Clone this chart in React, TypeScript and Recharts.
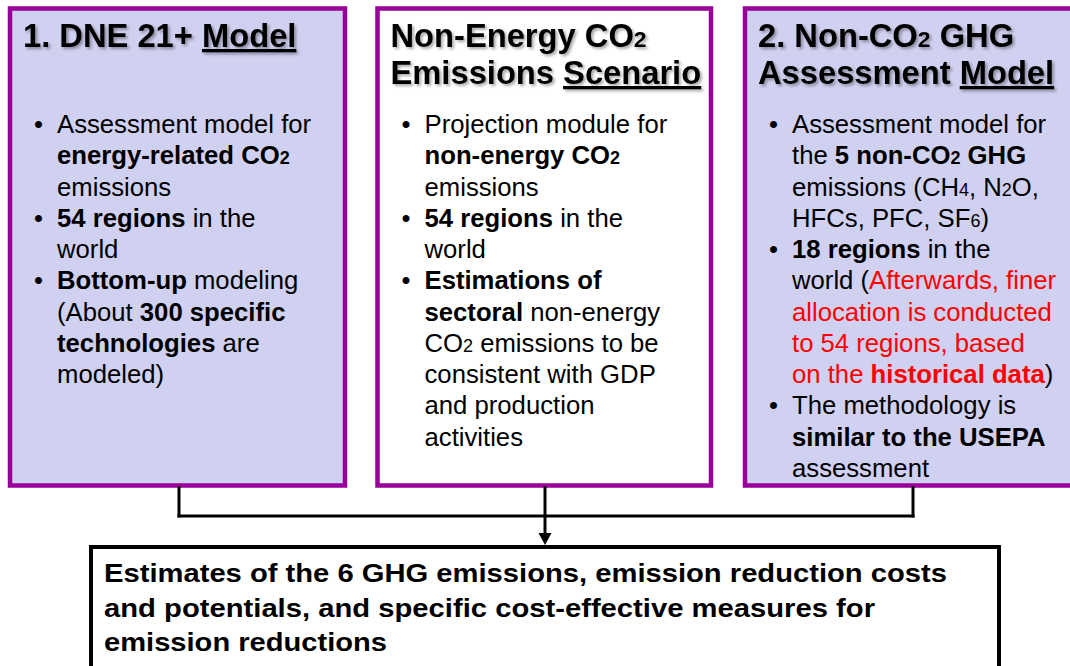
import React from "react"
import { ComposedChart, XAxis, YAxis, ReferenceArea, ReferenceDot, ReferenceLine } from "recharts"

// segment = [text, flags]; flags: b bold, s subscript, r red, u underline
type Seg = [string, string?]
type Row = { bullet?: boolean; segs: Seg[] }

const COLORS = {
  frame: "#990099",
  lavender: "#d0d0f0",
  red: "#ff0000",
  ink: "#000000",
}

const FONT = "'Liberation Sans', Arial, sans-serif"

const dneTitle: Seg[][] = [[["1. DNE 21+ "], ["Model", "u"]]]
const dneRows: Row[] = [
  { bullet: true, segs: [["Assessment model for"]] },
  { segs: [["energy-related CO", "b"], ["2", "bs"]] },
  { segs: [["emissions"]] },
  { bullet: true, segs: [["54 regions", "b"], [" in the"]] },
  { segs: [["world"]] },
  { bullet: true, segs: [["Bottom-up", "b"], [" modeling"]] },
  { segs: [["(About "], ["300 specific", "b"]] },
  { segs: [["technologies", "b"], [" are"]] },
  { segs: [["modeled)"]] },
]

const nonEnergyTitle: Seg[][] = [
  [["Non-Energy CO"], ["2", "s"]],
  [["Emissions "], ["Scenario", "u"]],
]
const nonEnergyRows: Row[] = [
  { bullet: true, segs: [["Projection module for"]] },
  { segs: [["non-energy CO", "b"], ["2", "bs"]] },
  { segs: [["emissions"]] },
  { bullet: true, segs: [["54 regions", "b"], [" in the"]] },
  { segs: [["world"]] },
  { bullet: true, segs: [["Estimations of", "b"]] },
  { segs: [["sectoral", "b"], [" non-energy"]] },
  { segs: [["CO"], ["2", "s"], [" emissions to be"]] },
  { segs: [["consistent with GDP"]] },
  { segs: [["and production"]] },
  { segs: [["activities"]] },
]

const nonCo2Title: Seg[][] = [
  [["2. Non-CO"], ["2", "s"], [" GHG"]],
  [["Assessment "], ["Model", "u"]],
]
const nonCo2Rows: Row[] = [
  { bullet: true, segs: [["Assessment model for"]] },
  { segs: [["the "], ["5 non-CO", "b"], ["2", "bs"], [" GHG", "b"]] },
  { segs: [["emissions (CH"], ["4", "s"], [", N"], ["2", "s"], ["O,"]] },
  { segs: [["HFCs, PFC, SF"], ["6", "s"], [")"]] },
  { bullet: true, segs: [["18 regions", "b"], [" in the"]] },
  { segs: [["world ("], ["Afterwards, finer", "r"]] },
  { segs: [["allocation is conducted", "r"]] },
  { segs: [["to 54 regions, based", "r"]] },
  { segs: [["on the ", "r"], ["historical data", "rb"], [")"]] },
  { bullet: true, segs: [["The methodology is"]] },
  { segs: [["similar to the USEPA", "b"]] },
  { segs: [["assessment"]] },
]

const resultLines = [
  "Estimates of the 6 GHG emissions, emission reduction costs",
  "and potentials, and specific cost-effective measures for",
  "emission reductions",
]
const resultWidths = [843, 771, 283]

// connector segments: bracket under the three boxes and centre stem
const connectors = [
  [{ x: 179, y: 488 }, { x: 179, y: 516 }],
  [{ x: 913, y: 488 }, { x: 913, y: 516 }],
  [{ x: 179, y: 516 }, { x: 913, y: 516 }],
  [{ x: 545, y: 488 }, { x: 545, y: 534 }],
]

const renderSegs = (segs: Seg[]) =>
  segs.map(([t, f = ""], i) => (
    <tspan
      key={i}
      fontWeight={f.includes("b") ? 700 : 400}
      fontSize={f.includes("s") ? "70%" : undefined}
      fill={f.includes("r") ? COLORS.red : COLORS.ink}
      textDecoration={f.includes("u") ? "underline" : undefined}
    >
      {t}
    </tspan>
  ))

const boxLabel = (title: Seg[][], rows: Row[]) => (props: any) => {
  const { x, y } = props.viewBox
  return (
    <g style={{ whiteSpace: "pre" }} fontFamily={FONT}>
      {title.map((line, i) => (
        <text
          key={"t" + i}
          x={x + 13}
          y={y + 38.5 + i * 37}
          fontSize={32.7}
          fontWeight={700}
          style={{ filter: "drop-shadow(2px 2px 1.5px rgba(0,0,0,0.35))" }}
        >
          {renderSegs(line.map(([t, f = ""]) => [t, f + "b"] as Seg))}
        </text>
      ))}
      {rows.map((r, i) => (
        <g key={"r" + i}>
          {r.bullet && (
            <text x={x + 24} y={y + 124.5 + i * 31.25} fontSize={25.7}>
              •
            </text>
          )}
          <text x={x + 47} y={y + 124.5 + i * 31.25} fontSize={25.7}>
            {renderSegs(r.segs)}
          </text>
        </g>
      ))}
    </g>
  )
}

const resultLabel = (props: any) => {
  const { x, y } = props.viewBox
  return (
    <g fontFamily={FONT}>
      {resultLines.map((t, i) => (
        <text
          key={i}
          x={x + 13}
          y={y + 35 + i * 34.5}
          fontSize={26}
          fontWeight={700}
          textLength={resultWidths[i]}
          lengthAdjust="spacingAndGlyphs"
        >
          {t}
        </text>
      ))}
    </g>
  )
}

const arrowHead = (p: any) => (
  <path d={`M${p.cx - 6.5},${p.cy - 12} L${p.cx + 6.5},${p.cy - 12} L${p.cx},${p.cy} Z`} fill={COLORS.ink} />
)

export default function App() {
  return (
    <div style={{ position: "absolute", left: 0, top: 0, background: "#fff" }}>
      <ComposedChart width={1070} height={666} margin={{ top: 0, right: 0, bottom: 0, left: 0 }}>
        <XAxis type="number" dataKey="x" domain={[0, 1070]} hide allowDataOverflow />
        <YAxis type="number" dataKey="y" domain={[0, 666]} reversed hide allowDataOverflow />

        <ReferenceArea x1={10} x2={345} y1={8.5} y2={485.5} ifOverflow="visible"
          fill={COLORS.lavender} fillOpacity={1} stroke={COLORS.frame} strokeWidth={4.5}
          label={boxLabel(dneTitle, dneRows)} />
        <ReferenceArea x1={377.5} x2={711} y1={8.5} y2={485.5} ifOverflow="visible"
          fill="#ffffff" fillOpacity={1} stroke={COLORS.frame} strokeWidth={4.5}
          label={boxLabel(nonEnergyTitle, nonEnergyRows)} />
        <ReferenceArea x1={745} x2={1080} y1={8.5} y2={485.5} ifOverflow="visible"
          fill={COLORS.lavender} fillOpacity={1} stroke={COLORS.frame} strokeWidth={4.5}
          label={boxLabel(nonCo2Title, nonCo2Rows)} />
        <ReferenceArea x1={91} x2={999} y1={547} y2={690} ifOverflow="visible"
          fill="#ffffff" fillOpacity={1} stroke={COLORS.ink} strokeWidth={4}
          label={resultLabel} />

        {connectors.map((seg, i) => (
          <ReferenceLine key={i} segment={seg} ifOverflow="visible" stroke={COLORS.ink} strokeWidth={3} strokeLinecap="square" />
        ))}
        <ReferenceDot x={545} y={545} ifOverflow="visible" shape={arrowHead} />
      </ComposedChart>
    </div>
  )
}
